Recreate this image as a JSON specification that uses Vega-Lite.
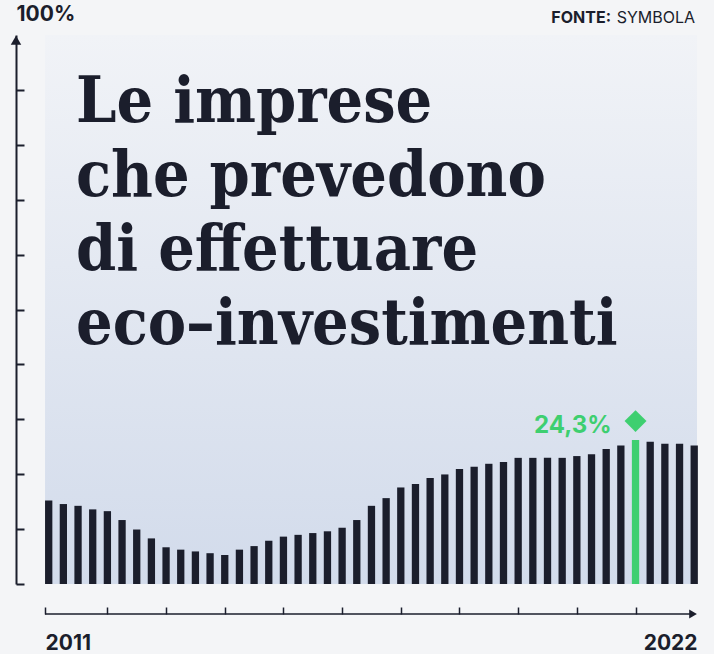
{
  "$schema": "https://vega.github.io/schema/vega-lite/v6.json",
  "width": 681,
  "height": 549,
  "autosize": "none",
  "padding": {"left": 16, "top": 35, "right": 17, "bottom": 70},
  "background": "#f4f5f7",
  "title": {
    "text": ["Le imprese", "che prevedono", "di effettuare", "eco–investimenti"],
    "anchor": "start",
    "frame": "group",
    "font": "DejaVu Serif Condensed, Liberation Serif",
    "fontSize": 64,
    "fontWeight": "bold",
    "color": "#1b1e2c",
    "lineHeight": 74,
    "baseline": "alphabetic",
    "dx": 60,
    "dy": 409
  },
  "config": {"view": {"stroke": null}},
  "datasets": {
    "bars": [
      {"i": 0, "v": 14.1}, {"i": 1, "v": 13.5}, {"i": 2, "v": 13.2}, {"i": 3, "v": 12.6},
      {"i": 4, "v": 12.3}, {"i": 5, "v": 10.8}, {"i": 6, "v": 9.2}, {"i": 7, "v": 7.7},
      {"i": 8, "v": 6.2}, {"i": 9, "v": 5.8}, {"i": 10, "v": 5.5}, {"i": 11, "v": 5.2},
      {"i": 12, "v": 4.9}, {"i": 13, "v": 5.8}, {"i": 14, "v": 6.4}, {"i": 15, "v": 7.3},
      {"i": 16, "v": 8.0}, {"i": 17, "v": 8.3}, {"i": 18, "v": 8.6}, {"i": 19, "v": 8.9},
      {"i": 20, "v": 9.5}, {"i": 21, "v": 10.8}, {"i": 22, "v": 13.2}, {"i": 23, "v": 14.5},
      {"i": 24, "v": 16.3}, {"i": 25, "v": 16.9}, {"i": 26, "v": 17.9}, {"i": 27, "v": 18.5},
      {"i": 28, "v": 19.4}, {"i": 29, "v": 19.8}, {"i": 30, "v": 20.3}, {"i": 31, "v": 20.6},
      {"i": 32, "v": 21.3}, {"i": 33, "v": 21.3}, {"i": 34, "v": 21.3}, {"i": 35, "v": 21.3},
      {"i": 36, "v": 21.6}, {"i": 37, "v": 21.9}, {"i": 38, "v": 22.8}, {"i": 39, "v": 23.4},
      {"i": 40, "v": 24.3}, {"i": 41, "v": 24.0}, {"i": 42, "v": 23.7}, {"i": 43, "v": 23.7},
      {"i": 44, "v": 23.4}
    ],
    "one": [{}]
  },
  "data": {"name": "bars"},
  "layer": [
    {
      "data": {"name": "one"},
      "mark": {
        "type": "rect",
        "color": {
          "gradient": "linear", "x1": 0, "y1": 0, "x2": 0, "y2": 1,
          "stops": [{"offset": 0, "color": "#f1f3f7"}, {"offset": 1, "color": "#d2dbeb"}]
        }
      },
      "encoding": {
        "x": {"datum": -0.25, "type": "quantitative"},
        "x2": {"datum": 44.19},
        "y": {"datum": 92.7, "type": "quantitative"},
        "y2": {"datum": 0}
      }
    },
    {
      "mark": {"type": "bar", "width": 7.3},
      "encoding": {
        "x": {
          "field": "i", "type": "quantitative",
          "scale": {"domain": [-2.229, 44.19], "nice": false, "zero": false, "padding": 0},
          "axis": {
            "orient": "bottom", "offset": 30, "domain": false, "grid": false,
            "values": [-0.25, 4, 8, 12, 16, 20, 24, 28, 32, 36, 40, 44.19],
            "tickSize": -7, "tickWidth": 1.5,
            "tickColor": {"condition": {"test": "datum.value > 44", "value": "transparent"}, "value": "#1b1e2c"},
            "labelExpr": "datum.value < 0 ? '2011' : (datum.value > 44 ? '2022' : '')",
            "labelAlign": {"condition": {"test": "datum.value < 0", "value": "left"}, "value": "right"},
            "labelBaseline": "top",
            "labelFont": "Inter", "labelFontWeight": "bold", "labelFontSize": 21,
            "labelColor": "#1b1e2c", "labelPadding": 25, "labelFlush": false,
            "labelOverlap": false, "labelBound": false, "title": null
          }
        },
        "y": {
          "field": "v", "type": "quantitative",
          "scale": {"domain": [0, 92.7], "nice": false},
          "axis": {
            "orient": "left", "grid": false, "labels": false,
            "values": [0, 9.27, 18.54, 27.81, 37.08, 46.35, 55.62, 64.89, 74.16, 83.43],
            "domainColor": "#1b1e2c", "domainWidth": 2,
            "tickColor": "#1b1e2c", "tickWidth": 2, "tickSize": -8,
            "title": "100%", "titleAngle": 0, "titleAlign": "left", "titleBaseline": "alphabetic",
            "titleX": 0, "titleY": -15,
            "titleFont": "Inter", "titleFontWeight": "bold", "titleFontSize": 21, "titleColor": "#1b1e2c"
          }
        },
        "color": {"condition": {"test": "datum.i === 40", "value": "#3ecf70"}, "value": "#1b1e2c"}
      }
    },
    {
      "data": {"name": "one"},
      "mark": {"type": "rule", "color": "#1b1e2c", "strokeWidth": 1.5},
      "encoding": {
        "x": {"datum": -0.25, "type": "quantitative"},
        "x2": {"datum": 43.9},
        "y": {"datum": -5.06, "type": "quantitative"}
      }
    },
    {
      "data": {"name": "one"},
      "mark": {"type": "point", "shape": "triangle-right", "filled": true, "color": "#1b1e2c", "size": 80, "opacity": 1},
      "encoding": {
        "x": {"datum": 43.92, "type": "quantitative"},
        "y": {"datum": -5.06, "type": "quantitative"}
      }
    },
    {
      "data": {"name": "one"},
      "mark": {"type": "point", "shape": "triangle-up", "filled": true, "color": "#1b1e2c", "size": 110, "opacity": 1},
      "encoding": {
        "x": {"datum": -2.229, "type": "quantitative"},
        "y": {"datum": 91.8, "type": "quantitative"}
      }
    },
    {
      "transform": [
        {"filter": "datum.i === 40"},
        {"calculate": "replace(format(datum.v, '.1f'), '.', ',') + '%'", "as": "lbl"}
      ],
      "mark": {"type": "text", "align": "right", "baseline": "alphabetic", "dx": -24, "dy": -7, "font": "Inter", "fontWeight": "bold", "fontSize": 24, "color": "#3ecf70"},
      "encoding": {
        "x": {"field": "i", "type": "quantitative"},
        "y": {"field": "v", "type": "quantitative"},
        "text": {"field": "lbl"}
      }
    },
    {
      "transform": [{"filter": "datum.i === 40"}],
      "mark": {"type": "point", "shape": "diamond", "filled": true, "color": "#3ecf70", "size": 480, "opacity": 1},
      "encoding": {
        "x": {"field": "i", "type": "quantitative"},
        "y": {"field": "v", "type": "quantitative"},
        "yOffset": {"value": -19}
      }
    },
    {
      "data": {"name": "one"},
      "mark": {"type": "text", "align": "right", "baseline": "alphabetic", "dx": -2, "font": "Inter", "fontSize": 16, "color": "#1b1e2c", "text": "SYMBOLA"},
      "encoding": {
        "x": {"datum": 44.19, "type": "quantitative"},
        "y": {"datum": 94.8, "type": "quantitative"}
      }
    },
    {
      "data": {"name": "one"},
      "mark": {"type": "text", "align": "right", "baseline": "alphabetic", "dx": -86, "font": "Inter", "fontSize": 16, "fontWeight": "bold", "color": "#1b1e2c", "text": "FONTE:"},
      "encoding": {
        "x": {"datum": 44.19, "type": "quantitative"},
        "y": {"datum": 94.8, "type": "quantitative"}
      }
    }
  ]
}
